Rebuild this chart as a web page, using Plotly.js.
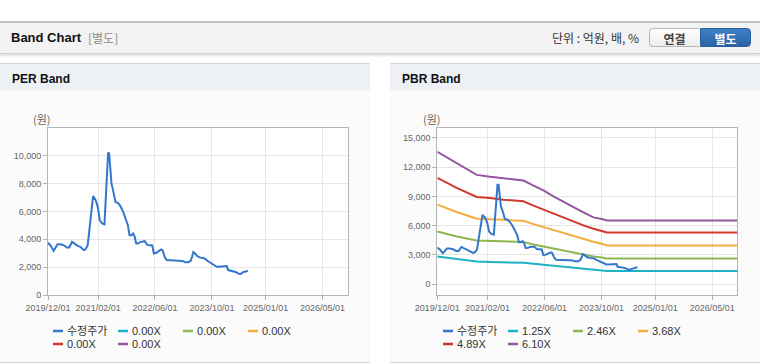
<!DOCTYPE html>
<html>
<head>
<meta charset="utf-8">
<script src="https://cdn.plot.ly/plotly-3.0.1.min.js"></script>
<style>
  html, body { margin:0; padding:0; }
  body { width:760px; height:364px; overflow:hidden; background:#fff; position:relative;
         font-family:"Liberation Sans","Noto Sans CJK KR",sans-serif; }
  .abs { position:absolute; }
  #hdr { left:0; top:21px; width:760px; height:30px; background:#f3f3f3;
         border-top:2px solid #c4c4c4; border-bottom:1px solid #d0d0d0;
         box-shadow:0 2px 2px rgba(0,0,0,0.12); }
  #hdrTitle { left:11px; top:30px; font-size:13px; font-weight:bold; color:#111; line-height:16px; }
  #hdrSub { left:88px; top:30px; font-size:12px; color:#8a8a8a; line-height:16px; font-family:"Noto Sans CJK KR",sans-serif; }
  #unit { left:552px; top:30px; font-size:12px; color:#333; line-height:16px; font-family:"Noto Sans CJK KR",sans-serif; }
  .btn { top:28px; height:19px; width:50px; font-size:12px; font-weight:bold; line-height:19px; text-align:center;
         font-family:"Noto Sans CJK KR",sans-serif; box-sizing:border-box; }
  #btn1 { left:649px; background:linear-gradient(#ffffff,#ececec); border:1px solid #b8b8b8; border-right:none;
          border-radius:4px 0 0 4px; color:#444; }
  #btn2 { left:700px; width:51px; background:linear-gradient(#3f80c6,#2a64a6); border:1px solid #2a5f9c;
          border-radius:0 4px 4px 0; color:#fff; }
  .panel { top:63px; height:298px; background:#fbfbfb; border-top:1px solid #d8d8d8; border-bottom:1px solid #d8d8d8; }
  .ptitle { top:64px; height:27px; background:#edf1f6; }
  .ptext { top:71px; font-size:12px; font-weight:bold; color:#111; line-height:16px; }
  #chart { left:0; top:0; width:760px; height:364px; }
</style>
</head>
<body>
<div id="hdr" class="abs"></div>
<div id="hdrTitle" class="abs">Band Chart</div>
<div id="hdrSub" class="abs">[별도]</div>
<div id="unit" class="abs">단위 : 억원, 배, %</div>
<div id="btn1" class="abs btn">연결</div>
<div id="btn2" class="abs btn">별도</div>

<div class="abs panel" style="left:0;width:370px;"></div>
<div class="abs ptitle" style="left:0;width:370px;"></div>
<div class="abs ptext" style="left:12px;">PER Band</div>

<div class="abs panel" style="left:390px;width:370px;"></div>
<div class="abs ptitle" style="left:390px;width:370px;"></div>
<div class="abs ptext" style="left:402px;">PBR Band</div>

<div id="chart" class="abs"></div>

<script>
// ---------------- data ----------------
const priceDates = ['2019-12-01','2019-12-21','2020-01-18','2020-02-21','2020-03-15','2020-04-13','2020-05-11','2020-05-31',
  '2020-06-23','2020-07-13','2020-08-11','2020-09-02','2020-10-01','2020-10-15','2020-11-04','2020-11-21','2020-12-05',
  '2020-12-20','2021-01-12','2021-01-29','2021-02-15','2021-03-10','2021-03-27','2021-04-04','2021-04-13','2021-04-22',
  '2021-04-27','2021-05-06','2021-05-12','2021-05-17','2021-05-26','2021-06-09','2021-06-29','2021-07-22','2021-08-11',
  '2021-09-03','2021-09-23','2021-10-13','2021-10-27','2021-11-13','2021-11-27','2021-12-09','2021-12-23','2022-01-06',
  '2022-01-29','2022-02-18','2022-03-07','2022-03-27','2022-04-16','2022-05-09','2022-05-23','2022-06-15','2022-07-05',
  '2022-07-25','2022-08-08','2022-08-22','2022-09-09','2022-10-13','2022-11-10','2022-11-25','2022-12-23','2023-01-29',
  '2023-02-13','2023-03-13','2023-04-02','2023-04-14','2023-04-25','2023-05-09','2023-05-29','2023-06-18','2023-07-11',
  '2023-07-31','2023-08-23','2023-09-15','2023-10-05','2023-10-25','2023-11-11','2023-12-01','2023-12-29','2024-01-18',
  '2024-02-04','2024-02-16','2024-03-09','2024-04-01','2024-04-21','2024-05-11','2024-05-28','2024-06-09','2024-06-26',
  '2024-07-16','2024-08-02'];
const priceValues = [3750,3580,3170,3650,3650,3580,3410,3410,
  3820,3700,3530,3460,3220,3270,3580,4890,6090,
  7110,6800,6320,5370,5130,5080,6320,7520,8950,
  10190,10190,9430,9070,8000,7520,6680,6610,6370,
  5970,5560,5010,4300,4300,4420,4220,3700,3700,
  3820,3870,3870,3600,3580,3560,2980,3030,3170,
  3270,3170,2740,2510,2510,2510,2460,2460,2430,
  2360,2360,2460,2740,3080,2980,2790,2700,2670,
  2630,2460,2340,2270,2150,2030,2030,2030,2080,
  2080,1790,1740,1720,1650,1550,1500,1550,1650,
  1690,1740];

// PER band (all multiples shown as 0.00X)
const perBandDates = ['2019-12-01','2026-12-01'];
const perBandNames = ['0.00X','0.00X','0.00X','0.00X','0.00X'];
const perBand1 = [0,0];
const perBand2 = [0,0];
const perBand3 = [0,0];
const perBand4 = [0,0];
const perBand5 = [0,0];

// PBR band
const pbrBandDates = ['2019-12-01','2020-05-14','2020-11-01','2021-02-23','2021-06-16','2021-09-10','2021-12-04',
  '2022-02-28','2022-05-24','2022-08-17','2022-11-11','2023-02-04','2023-04-30','2023-07-24','2023-10-04',
  '2023-11-16','2026-11-30'];
const pbrBandNames = ['1.25X','2.46X','3.68X','4.89X','6.10X'];
const pbr125 = [2840,2570,2330,2290,2260,2230,2190,2090,1990,1880,1780,1680,1580,1470,1400,1370,1370];
const pbr246 = [5410,4900,4490,4450,4380,4350,4320,4080,3870,3660,3460,3250,3050,2840,2740,2640,2640];
const pbr368 = [8150,7400,6710,6680,6610,6540,6510,6160,5860,5510,5240,4900,4620,4350,4140,3970,3970];
const pbr489 = [10890,9860,8940,8840,8660,8600,8490,8050,7640,7230,6780,6370,6030,5680,5480,5310,5310];
const pbr610 = [13560,12400,11200,11000,10860,10790,10620,10100,9620,9010,8490,7910,7360,6850,6680,6540,6540];

const xTickDates = ['2019-12-01','2021-02-01','2022-06-01','2023-10-01','2025-01-01','2026-05-01'];
const xTickText = ['2019/12/01','2021/02/01','2022/06/01','2023/10/01','2025/01/01','2026/05/01'];
const perYTicks = [0,2000,4000,6000,8000,10000];
const pbrYTicks = [0,3000,6000,9000,12000,15000];
const priceName = '수정주가';
const yUnit = '(원)';

// ---------------- styles ----------------
const colors = ['#1fb2c6','#8db750','#f2ad3c','#d2372b','#92579e'];
const priceColor = '#3377cc';
const W = 760, H = 364;
const px = v => v / W, py = v => 1 - v / H;

const perBands = [perBand1, perBand2, perBand3, perBand4, perBand5];
const pbrBands = [pbr125, pbr246, pbr368, pbr489, pbr610];

const traces = [];
perBands.forEach((arr, i) => traces.push({
  x: perBandDates, y: arr, name: perBandNames[i], type: 'scatter', mode: 'lines',
  line: {color: colors[i], width: 2}, xaxis: 'x', yaxis: 'y', visible: 'legendonly'
}));
traces.push({x: priceDates, y: priceValues, name: priceName, type: 'scatter', mode: 'lines',
  line: {color: priceColor, width: 2}, xaxis: 'x', yaxis: 'y'});
pbrBands.forEach((arr, i) => traces.push({
  x: pbrBandDates, y: arr, name: pbrBandNames[i], type: 'scatter', mode: 'lines',
  line: {color: colors[i], width: 2}, xaxis: 'x2', yaxis: 'y2'
}));
traces.push({x: priceDates, y: priceValues, name: priceName, type: 'scatter', mode: 'lines',
  line: {color: priceColor, width: 2}, xaxis: 'x2', yaxis: 'y2'});

const tickFont = {family: '"Liberation Sans", Arial, sans-serif', size: 9, color: '#666'};
const xCommon = {
  type: 'date', range: ['2019-12-01', '2026-12-01'], tickmode: 'array', tickvals: xTickDates, ticktext: xTickText,
  tickangle: 0, showgrid: true, gridcolor: '#e6e6e6', gridwidth: 1, showline: true, linecolor: '#b4b4b4', mirror: true,
  ticks: 'outside', ticklen: 4, tickcolor: '#b4b4b4', tickfont: tickFont, zeroline: false, fixedrange: true
};
const yCommon = {
  showgrid: true, gridcolor: '#e6e6e6', gridwidth: 1, showline: true, linecolor: '#b4b4b4', mirror: true,
  ticks: 'outside', ticklen: 4, tickcolor: '#b4b4b4', tickfont: tickFont, zeroline: false,
  tickformat: ',d', fixedrange: true
};
const yDom = [py(295), py(128)];

// ---------- custom legends (line sample + text) ----------
const legendFont = {family: '"Liberation Sans", "Noto Sans CJK KR", sans-serif', size: 11, color: '#333'};
const shapes = [];
const annotations = [
  {text: yUnit, xref: 'paper', yref: 'paper', x: px(31), y: py(119), xanchor: 'left', yanchor: 'middle',
   showarrow: false, font: {family: '"Noto Sans CJK KR", sans-serif', size: 11, color: '#666'}},
  {text: yUnit, xref: 'paper', yref: 'paper', x: px(421), y: py(119), xanchor: 'left', yanchor: 'middle',
   showarrow: false, font: {family: '"Noto Sans CJK KR", sans-serif', size: 11, color: '#666'}}
];
function addLegend(x0, names) {
  const cols = [priceColor].concat(colors);
  names.forEach((nm, i) => {
    const col = i % 4, row = Math.floor(i / 4);
    const lx = x0 + col * 65, ly = 331 + row * 13;
    shapes.push({type: 'line', xref: 'paper', yref: 'paper', x0: px(lx), x1: px(lx + 10), y0: py(ly), y1: py(ly),
                 line: {color: cols[i], width: 2.5}});
    annotations.push({text: nm, xref: 'paper', yref: 'paper', x: px(lx + 12), y: py(ly), xanchor: 'left', yanchor: 'middle',
                      showarrow: false, font: legendFont});
  });
}
addLegend(53, [priceName].concat(perBandNames));
addLegend(443, [priceName].concat(pbrBandNames));

const layout = {
  width: W, height: H, margin: {l: 0, r: 0, t: 0, b: 0},
  paper_bgcolor: 'rgba(0,0,0,0)', plot_bgcolor: '#ffffff',
  showlegend: false,
  xaxis: Object.assign({}, xCommon, {domain: [px(48), px(347.5)], anchor: 'y'}),
  yaxis: Object.assign({}, yCommon, {domain: yDom, range: [0, 12000], tickmode: 'array', tickvals: perYTicks, anchor: 'x'}),
  xaxis2: Object.assign({}, xCommon, {domain: [px(437.3), px(737.3)], anchor: 'y2'}),
  yaxis2: Object.assign({}, yCommon, {domain: yDom, range: [-1100, 16000], tickmode: 'array', tickvals: pbrYTicks, anchor: 'x2'}),
  shapes: shapes,
  annotations: annotations,
  hovermode: false
};

Plotly.newPlot('chart', traces, layout, {staticPlot: true, displayModeBar: false});
</script>
</body>
</html>
